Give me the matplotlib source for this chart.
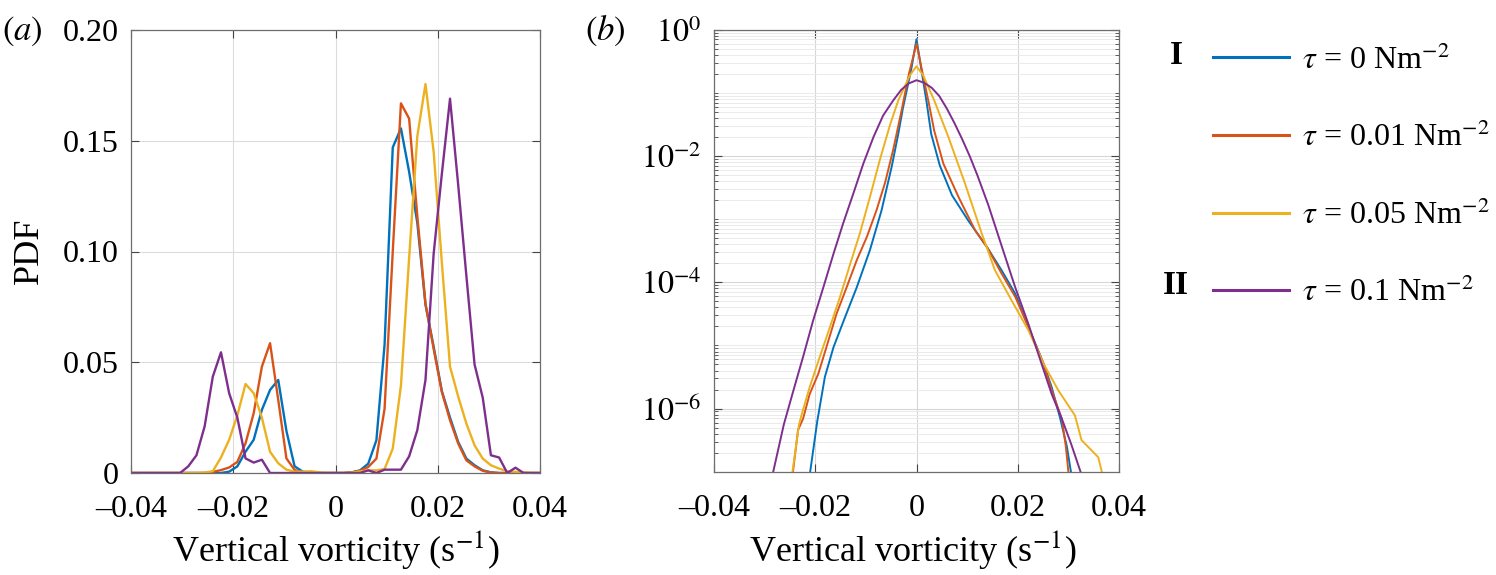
import matplotlib
matplotlib.use('Agg')
import matplotlib.pyplot as plt
import numpy as np
from matplotlib.ticker import FixedLocator, FixedFormatter, LogLocator, NullFormatter

plt.rcParams['font.family'] = ['Liberation Serif', 'DejaVu Serif']
plt.rcParams['mathtext.fontset'] = 'stix'

# colours (MATLAB default order)
c_blue = '#0072BD'
c_orange = '#D95319'
c_yellow = '#EDB120'
c_purple = '#7E2F8E'

labels = [r'$\tau$ = 0 Nm$^{-2}$', r'$\tau$ = 0.01 Nm$^{-2}$',
          r'$\tau$ = 0.05 Nm$^{-2}$', r'$\tau$ = 0.1 Nm$^{-2}$']

# ---- panel (a): PDF on bins of width 0.0016 from -0.04 to 0.04 ----
bins_a = np.linspace(-0.04, 0.04, 51)

pdf_a_0 = [0, 0, 0, 0, 0, 0, 0, 0, 0, 0,
           0, 0, 0.0006, 0.003, 0.0096, 0.015, 0.0285, 0.0375, 0.042, 0.019,
           0.003, 0.0006, 0.0002, 0, 0, 0, 0, 0.0003, 0.0012, 0.0042,
           0.0148, 0.058, 0.147, 0.1556, 0.136, 0.113, 0.076, 0.057, 0.037, 0.025,
           0.014, 0.0065, 0.0035, 0.0012, 0.0003, 0, 0, 0, 0, 0, 0]
pdf_a_001 = [0, 0, 0, 0, 0, 0, 0, 0, 0, 0,
             0.0005, 0.0013, 0.0025, 0.005, 0.0134, 0.027, 0.048, 0.0586, 0.033, 0.0066,
             0.0014, 0, 0, 0, 0, 0, 0, 0.0003, 0.001, 0.0027,
             0.0065, 0.029, 0.10, 0.1669, 0.160, 0.116, 0.0765, 0.056, 0.0366, 0.0238,
             0.0133, 0.0057, 0.003, 0.001, 0.0002, 0, 0, 0, 0, 0, 0]
pdf_a_005 = [0, 0, 0, 0, 0, 0, 0, 0, 0, 0.0002,
             0.0008, 0.007, 0.015, 0.026, 0.0402, 0.036, 0.025, 0.0096, 0.0044, 0.0015,
             0.0006, 0.0006, 0.0008, 0.0003, 0, 0, 0, 0.0002, 0.0007, 0.0012,
             0.0012, 0.0018, 0.011, 0.0395, 0.097, 0.152, 0.1756, 0.145, 0.095, 0.048,
             0.0345, 0.0223, 0.0125, 0.0065, 0.0035, 0.002, 0.0008, 0.0005, 0.0003, 0, 0]
pdf_a_01 = [0, 0, 0, 0, 0, 0, 0, 0.003, 0.008, 0.021,
            0.0435, 0.0545, 0.036, 0.025, 0.0066, 0.0047, 0.006, 0, 0, 0,
            0, 0, 0, 0, 0, 0, 0, 0, 0, 0.0012,
            0, 0.0015, 0.0015, 0.0015, 0.0075, 0.0193, 0.042, 0.099, 0.135, 0.169,
            0.13, 0.089, 0.049, 0.034, 0.008, 0.007, 0, 0.0024, 0, 0, 0]

# ---- panel (b): log10 of PDF ----
vort_b_0 = [-0.0216, -0.0210, -0.0196, -0.0181, -0.0164, -0.0141, -0.0118, -0.0092,
            -0.0069, -0.0049, -0.0036, -0.0027, -0.0019, -0.0010, 0.0, 0.0010,
            0.0020, 0.0029, 0.0046, 0.0070, 0.0102, 0.0139, 0.0168, 0.0195,
            0.0221, 0.0251, 0.0267, 0.0284, 0.0297, 0.0305, 0.0309]
logpdf_b_0 = [-7.4, -7.0, -6.2, -5.5, -5.03, -4.55, -4.08, -3.49,
              -2.86, -2.17, -1.65, -1.25, -0.95, -0.61, -0.15, -0.65,
              -1.15, -1.65, -2.15, -2.62, -3.02, -3.44, -3.81, -4.18,
              -4.71, -5.29, -5.66, -6.16, -6.6, -7.0, -7.4]

vort_b_001 = [-0.0250, -0.0244, -0.0234, -0.0224, -0.0211, -0.0194, -0.0178, -0.0158,
              -0.0138, -0.0118, -0.0098, -0.0079, -0.0062, -0.0046, -0.0030, -0.0015,
              0.0, 0.0010, 0.0024, 0.0035, 0.0053, 0.0083, 0.0116, 0.0139,
              0.0168, 0.0195, 0.0221, 0.0251, 0.0267, 0.0287, 0.0295, 0.0300, 0.0303]
logpdf_b_001 = [-7.4, -7.0, -6.34, -6.16, -5.77, -5.45, -5.03, -4.50,
                -4.08, -3.65, -3.28, -2.86, -2.42, -1.90, -1.30, -0.70,
                -0.22, -0.61, -1.15, -1.6, -2.12, -2.65, -3.18, -3.44,
                -3.86, -4.23, -4.71, -5.29, -5.71, -6.16, -6.6, -7.0, -7.4]

vort_b_005 = [-0.0250, -0.0245, -0.0232, -0.0227, -0.0211, -0.0191, -0.0171, -0.0151,
              -0.0131, -0.0112, -0.0092, -0.0072, -0.0052, -0.0036, -0.0013, 0.0,
              0.0013, 0.0035, 0.0063, 0.0096, 0.0129, 0.0155, 0.0188, 0.0221,
              0.0251, 0.0280, 0.0313, 0.0326, 0.0359, 0.0366, 0.0370]
logpdf_b_005 = [-7.4, -7.0, -6.25, -6.1, -5.66, -5.18, -4.71, -4.23,
                -3.71, -3.23, -2.65, -2.05, -1.50, -1.12, -0.72, -0.58,
                -0.72, -1.12, -1.70, -2.44, -3.23, -3.81, -4.29, -4.76,
                -5.29, -5.71, -6.11, -6.5, -6.77, -7.0, -7.4]

vort_b_01 = [-0.0290, -0.0283, -0.0262, -0.0243, -0.0224, -0.0204, -0.0184, -0.0164,
             -0.0145, -0.0125, -0.0105, -0.0085, -0.0066, -0.0046, -0.0030, -0.0015,
             0.0, 0.0015, 0.0030, 0.0045, 0.0060, 0.0075, 0.0090, 0.0105,
             0.0120, 0.0142, 0.0168, 0.0195, 0.0221, 0.0247, 0.0267, 0.0287,
             0.0305, 0.0324, 0.0330]
logpdf_b_01 = [-7.35, -7.0, -6.25, -5.71, -5.18, -4.60, -4.08, -3.55,
               -3.07, -2.60, -2.12, -1.70, -1.36, -1.12, -0.95, -0.85,
               -0.80, -0.84, -0.92, -1.05, -1.25, -1.48, -1.73, -2.0,
               -2.3, -2.78, -3.42, -4.08, -4.66, -5.29, -5.77, -6.16,
               -6.55, -7.0, -7.3]

xtick_vals = [-0.04, -0.02, 0, 0.02, 0.04]
xtick_text = ['–0.04', '–0.02', '0', '0.02', '0.04']

W, H = 1496, 575
fig = plt.figure(figsize=(W / 100, H / 100), dpi=100)
ax_a = fig.add_axes([131 / W, (H - 473) / H, 409 / W, 443 / H])
ax_b = fig.add_axes([714 / W, (H - 471.7) / H, 405 / W, 442 / H])

colors = [c_blue, c_orange, c_yellow, c_purple]
tick_fs = 23
label_fs = 26

# panel (a)
for pdf, col in zip([pdf_a_0, pdf_a_001, pdf_a_005, pdf_a_01], colors):
    ax_a.plot(bins_a, pdf, color=col, lw=1.7)
ax_a.set_xlim(-0.04, 0.04)
ax_a.set_ylim(0, 0.2)
ax_a.xaxis.set_major_locator(FixedLocator(xtick_vals))
ax_a.xaxis.set_major_formatter(FixedFormatter(xtick_text))
ax_a.yaxis.set_major_locator(FixedLocator([0, 0.05, 0.10, 0.15, 0.20]))
ax_a.yaxis.set_major_formatter(FixedFormatter(['0', '0.05', '0.10', '0.15', '0.20']))
ax_a.grid(True, color='#dcdcdc', lw=0.8)
ax_a.set_xlabel('Vertical vorticity (s$^{-1}$)', fontsize=label_fs, va='center')
ax_a.xaxis.set_label_coords(0.5, -0.172)
ax_a.set_ylabel('PDF', fontsize=label_fs, va='center')
ax_a.yaxis.set_label_coords(-0.247, 0.502)

# panel (b)
lines_b = []
for v, lp, col in zip([vort_b_0, vort_b_001, vort_b_005, vort_b_01],
                      [logpdf_b_0, logpdf_b_001, logpdf_b_005, logpdf_b_01], colors):
    ln, = ax_b.plot(v, 10.0 ** np.array(lp), color=col, lw=1.4)
    lines_b.append(ln)
ax_b.set_yscale('log')
ax_b.set_xlim(-0.04, 0.04)
ax_b.set_ylim(1e-7, 1)
ax_b.xaxis.set_major_locator(FixedLocator(xtick_vals))
ax_b.xaxis.set_major_formatter(FixedFormatter(xtick_text))
ax_b.yaxis.set_major_locator(FixedLocator([1e-6, 1e-4, 1e-2, 1e0]))
ax_b.yaxis.set_major_formatter(FixedFormatter([r'$10^{-6}$', r'$10^{-4}$',
                                               r'$10^{-2}$', r'$10^{0}$']))
ax_b.yaxis.set_minor_locator(LogLocator(base=10, subs=np.arange(1, 10), numticks=20))
ax_b.yaxis.set_minor_formatter(NullFormatter())
ax_b.grid(True, which='major', color='#d6d6d6', lw=0.8)
ax_b.grid(True, which='minor', axis='y', color='#ebebeb', lw=0.7)
ax_b.set_xlabel('Vertical vorticity (s$^{-1}$)', fontsize=label_fs, va='center')
ax_b.xaxis.set_label_coords(0.49, -0.176)

for ax in (ax_a, ax_b):
    ax.set_axisbelow(True)
    for s in ax.spines.values():
        s.set_color('#6e6e6e')
        s.set_linewidth(0.9)
    ax.tick_params(which='major', direction='in', length=6, width=0.8, color='#444444',
                   top=True, right=True, labelsize=tick_fs, pad=9)
    ax.tick_params(which='minor', direction='in', length=3, width=0.6, color='#444444',
                   top=True, right=True)
    ax.tick_params(axis='x', pad=16)

fig.text(22 / W, 1 - 31 / H, r'$(a)$', fontsize=25, ha='center', va='center')
fig.text(605 / W, 1 - 31 / H, r'$(b)$', fontsize=25, ha='center', va='center')

leg = fig.legend(lines_b, labels, loc='upper left',
                 bbox_to_anchor=(1212.7 / W, 1 - 45 / H), bbox_transform=fig.transFigure,
                 frameon=False, fontsize=23, handlelength=2.4, handletextpad=0.4,
                 labelspacing=1.47, borderpad=0, borderaxespad=0)
for ln in leg.get_lines():
    ln.set_linewidth(2.2)

fig.text(1176 / W, 1 - 55 / H, 'I', fontsize=24, fontweight='bold', ha='center', va='center')
fig.text(1176 / W, 1 - 286 / H, 'II', fontsize=24, fontweight='bold', ha='center', va='center')

fig.savefig('out.png', dpi=100)
